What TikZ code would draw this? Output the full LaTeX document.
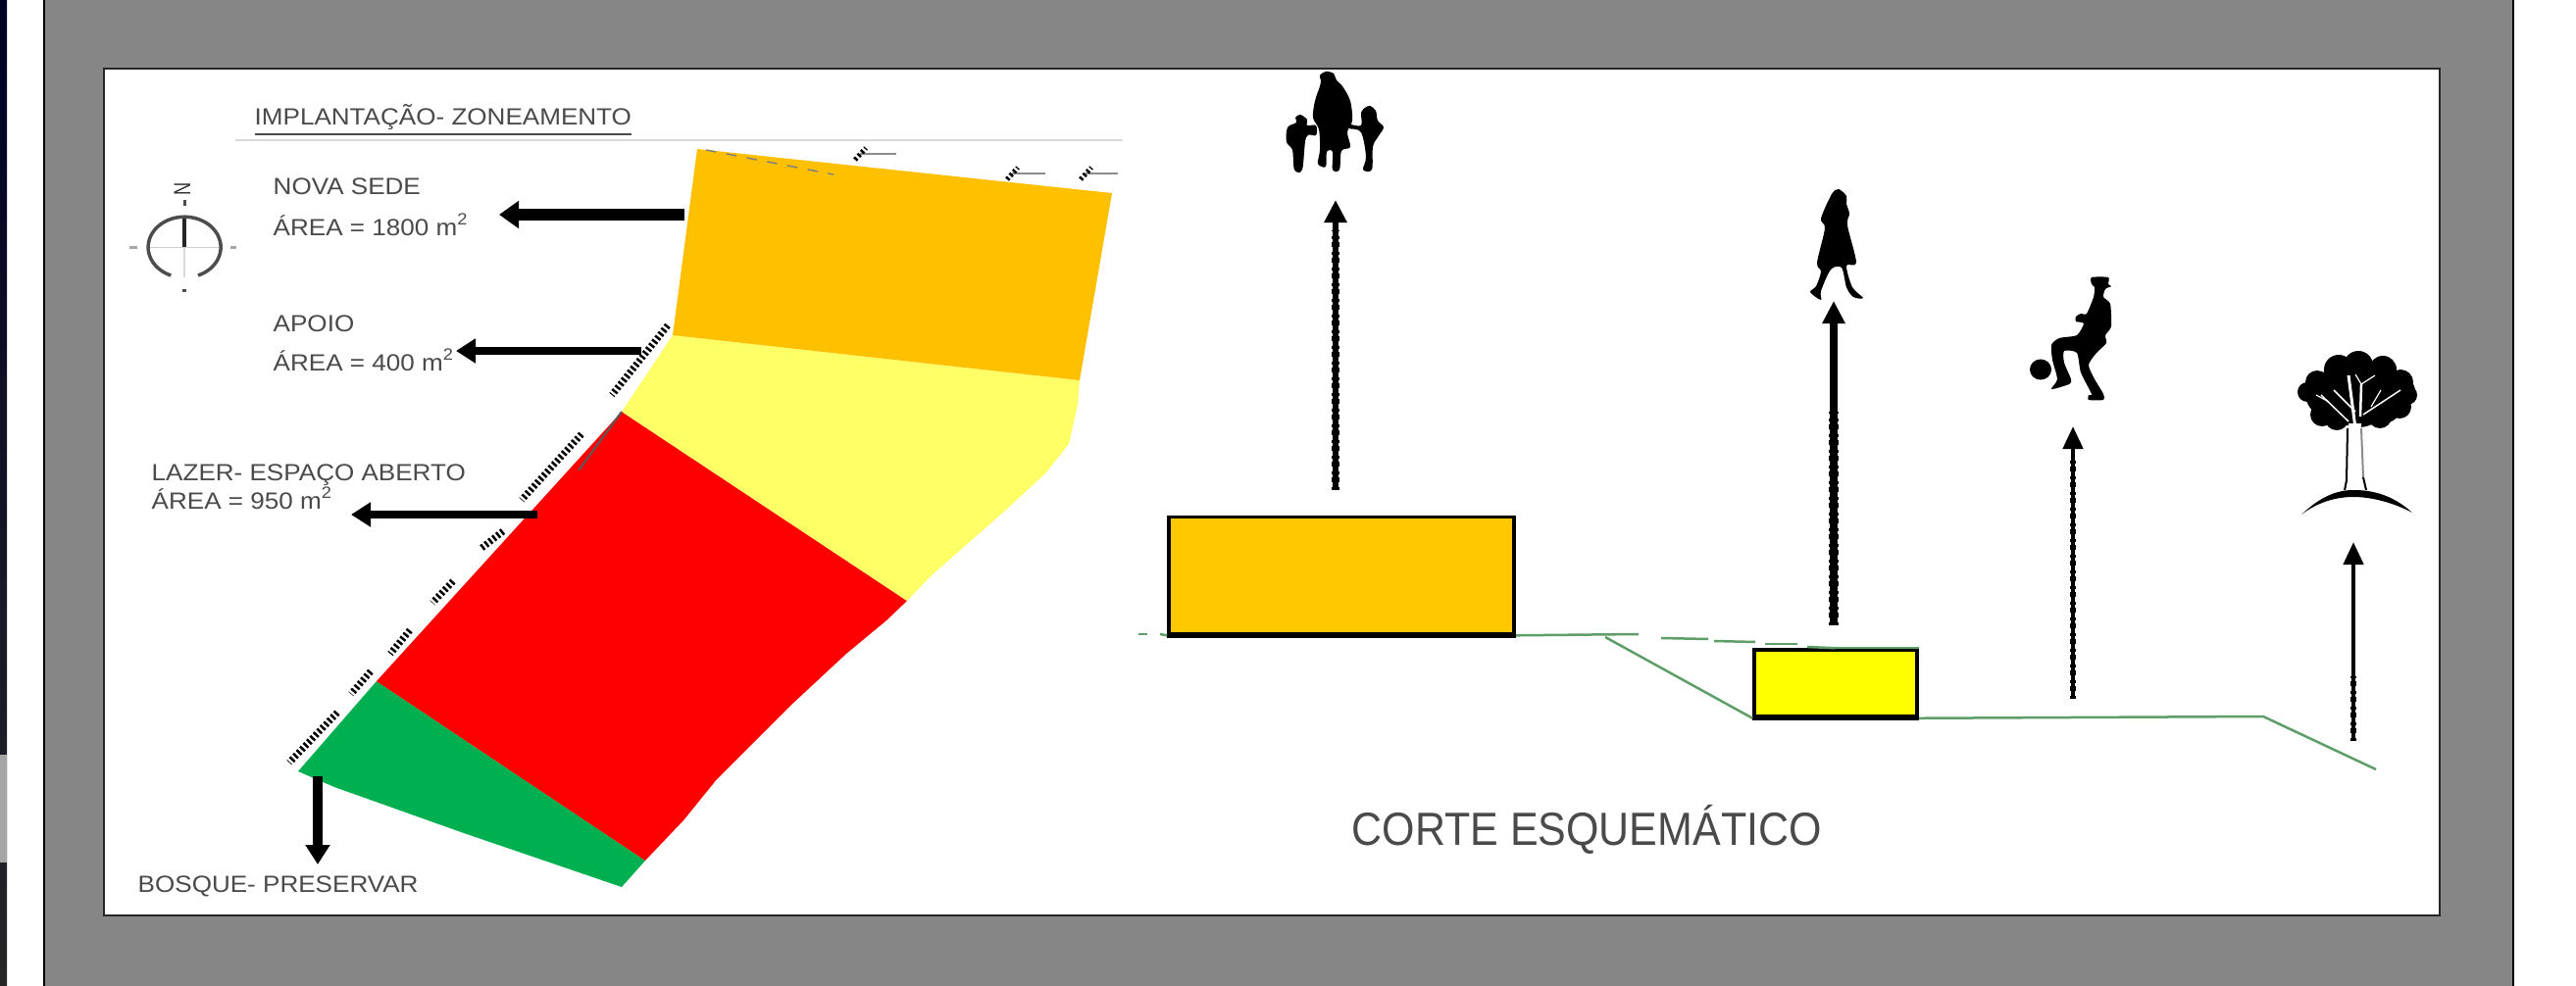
\documentclass[tikz,border=0pt]{standalone}
\usepackage{fontspec}
\usepackage{tikz}
\usetikzlibrary{arrows.meta}
\setmainfont{Liberation Sans}
\newfontfamily\planfont[FakeStretch=1.09]{Liberation Sans}
\newfontfamily\cortefont[FakeStretch=0.905]{Liberation Sans}
\definecolor{molduracinza}{HTML}{868686}
\definecolor{textocinza}{HTML}{4A4A4A}
\definecolor{zonaSede}{HTML}{FFC000}
\definecolor{zonaApoio}{HTML}{FFFF66}
\definecolor{zonaLazer}{HTML}{FF0000}
\definecolor{zonaBosque}{HTML}{00AF50}
\definecolor{caixaSede}{HTML}{FFC800}
\definecolor{caixaApoio}{HTML}{FFFF00}
\definecolor{terreno}{HTML}{5F9E68}

\begin{document}
\begin{tikzpicture}[x=0.01cm,y=-0.01cm,
    rotulo/.style={anchor=base west,text=textocinza,font=\planfont\fontsize{6.8}{8}\selectfont},
    setagrossa/.style={line width=0.12cm,-{Triangle[length=0.2cm,width=0.27cm]}},
    setamedia/.style={line width=0.08cm,-{Triangle[length=0.2cm,width=0.24cm]}},
    setacorte/.style={line width=0.06cm,-{Triangle[length=0.23cm,width=0.22cm]}},
    setafina/.style={line width=0.045cm,-{Triangle[length=0.23cm,width=0.2cm]}},
    rugas/.style={black,dash pattern=on 0.03cm off 0.05cm on 0.05cm off 0.03cm},
    cota/.style={black,line width=0.07cm,dash pattern=on 0.025cm off 0.025cm},
    cotafina/.style={black!45,line width=0.02cm},
    caixa/.style={draw=black,line width=0.035cm,minimum height=0,inner sep=0pt},
    nivel/.style={terreno,line width=0.025cm},
    silhueta/.style={fill=black,draw=none}]
    \tikzstyle{every node}+=[inner sep=0pt]
    \useasboundingbox (0,0) rectangle (2627,1006);
    \fill [white] (0,0) rectangle (2627,1006);
    \shade [top color=black!85!blue,middle color=black!70!red,bottom color=black!85] (0,0) rectangle (7,1006);
    \fill [black!35] (0,770) rectangle (7,880);
    \fill [molduracinza] (45,0) rectangle (2563,1006);
    \draw [black,line width=0.02cm] (45,0) -- (45,1006);
    \draw [black,line width=0.02cm] (2563,0) -- (2563,1006);
    \draw [black!85,fill=white,line width=0.015cm] (106,70) rectangle (2488,934);
    % titulo
    \node [rotulo] (titulo) at (259,127) {\underline{IMPLANTAÇÃO- ZONEAMENTO}};
    \draw [black!15,line width=0.02cm] (240,143) -- (1145,143);
    % norte
    \draw [black!70,line width=0.035cm] (202,281) arc [start angle=-68,end angle=248,x radius=0.37cm,y radius=0.31cm];
    \draw [black!20,line width=0.01cm] (153,252) -- (223,252);
    \draw [black!15,line width=0.02cm] (188,252) -- (188,283);
    \draw [black!85,line width=0.04cm] (188,223) -- (188,252);
    \draw [black!70,line width=0.03cm] (188,204) -- (188,210);
    \draw [black!70,line width=0.03cm] (186,296) -- (190,296);
    \draw [black!35,line width=0.03cm] (132,252) -- (140,252);
    \draw [black!35,line width=0.03cm] (235,252) -- (241,252);
    \node [rotate=90,text=black!80,font=\planfont\fontsize{6.8}{8}\selectfont] (norte) at (186,193) {\scalebox{.7}[1]{N}};
    % zonas
    \fill [zonaBosque] (384,695) -- (658,878) -- (634,905) -- (473,850) -- (341,803) -- (304,787) -- cycle;
    \fill [zonaLazer] (634,420) -- (925,613) -- (904,633) -- (863,667) -- (806,720) -- (731,795) -- (697,837) -- (658,878) -- (384,695) -- cycle;
    \fill [zonaApoio] (686,342) -- (1101,388) -- (1099,413) -- (1090,453) -- (1066,483) -- (1026,520) -- (950,587) -- (925,613) -- (634,420) -- cycle;
    \fill [zonaSede] (711,152) -- (1134,197) -- (1101,388) -- (686,342) -- cycle;
    \draw [black!65,line width=0.02cm] (634,420) -- (590,480);
    \draw [black!50,line width=0.015cm,dashed] (720,153) -- (850,178);
    % cotas
    \foreach \xa/\ya/\xb/\yb in {681/332/624/403,593/443/532/510,513/542/490/560,462/593/441/615,418/643/398/667,378/685/358/708,344/727/295/778}
      \draw [cota] (\xa,\ya) -- (\xb,\yb);
    \foreach \xa/\xb/\yc in {877/914/157,1032/1066/177,1107/1140/177}{
      \draw [cotafina] (\xa,\yc) -- (\xb,\yc);
      \draw [cota,line width=0.05cm] (\xa-5,\yc+6) -- (\xa+6,\yc-6);
    }
    % legendas
    \node [rotulo] (sede) at (278,198) {NOVA SEDE};
    \node [rotulo] (sedearea) at (278,240) {ÁREA = 1800 m\textsuperscript{2}};
    \node [rotulo] (apoio) at (278,338) {APOIO};
    \node [rotulo] (apoioarea) at (278,378) {ÁREA = 400 m\textsuperscript{2}};
    \node [rotulo] (lazer) at (154,490) {LAZER- ESPAÇO ABERTO};
    \node [rotulo] (lazerarea) at (154,519) {ÁREA = 950 m\textsuperscript{2}};
    \node [rotulo] (bosque) at (140,910) {BOSQUE- PRESERVAR};
    \coordinate (sedeA) at (698,219);
    \coordinate (sedeB) at (509,219);
    \coordinate (apoioA) at (654,358);
    \coordinate (apoioB) at (465,358);
    \coordinate (lazerA) at (548,525);
    \coordinate (lazerB) at (358,525);
    \coordinate (bosqueA) at (324,792);
    \coordinate (bosqueB) at (324,882);
    \draw [black,setagrossa] (sedeA) -- (sedeB);
    \draw [black,setamedia] (apoioA) -- (apoioB);
    \draw [black,setamedia] (lazerA) -- (lazerB);
    \draw [black,setamedia,line width=0.1cm] (bosqueA) -- (bosqueB);
    % corte
    \node [caixa,fill=caixaSede,minimum width=3.52cm,minimum height=1.19cm] (caixasede) at (1368,587) {};
    \node [caixa,fill=caixaApoio,minimum width=1.66cm,minimum height=0.68cm] (caixaapoio) at (1872,697) {};
    \draw [black,line width=0.05cm] (caixasede.south west) -- (caixasede.south east);
    \draw [black,line width=0.05cm] (caixaapoio.south west) -- (caixaapoio.south east);
    \draw [nivel] (1161,647) -- (1170,647);
    \draw [nivel] (1183,647) -- (caixasede.south west);
    \draw [nivel] (caixasede.south east) -- (1671,647);
    \draw [nivel] (1694,651) -- (1742,652);
    \draw [nivel] (1748,654) -- (1790,655);
    \draw [nivel] (1800,657) -- (1833,657);
    \draw [nivel] (1843,660) -- (caixaapoio.north);
    \draw [nivel] (caixaapoio.north) -- (caixaapoio.north east);
    \draw [nivel] (1637,650) -- (caixaapoio.south west);
    \draw [nivel] (caixaapoio.south east) -- (2308,731) -- (2423,785);
    \coordinate (familiaA) at (1362,500);
    \coordinate (familiaB) at (1362,204);
    \coordinate (mulherA) at (1870,638);
    \coordinate (mulherB) at (1870,307);
    \coordinate (jogadorA) at (2114,713);
    \coordinate (jogadorB) at (2114,435);
    \coordinate (arvoreA) at (2400,756);
    \coordinate (arvoreB) at (2400,553);
    \draw [black,setacorte] (familiaA) -- (familiaB);
    \draw [black,setacorte,line width=0.08cm] (mulherA) -- (mulherB);
    \draw [black,setafina] (jogadorA) -- (jogadorB);
    \draw [black,setafina] (arvoreA) -- (arvoreB);
    \draw [rugas,line width=0.085cm] (familiaA) -- (1362,235);
    \draw [rugas,line width=0.105cm] (mulherA) -- (1870,420);
    \draw [rugas,line width=0.065cm] (jogadorA) -- (2114,470);
    \draw [rugas,line width=0.06cm] (arvoreA) -- (2400,690);
    \node [anchor=base west,text=textocinza,font=\cortefont\fontsize{13.5}{16}\selectfont] (corte) at (1378,862) {CORTE ESQUEMÁTICO};
    % familia
    \fill [silhueta] plot [smooth cycle,tension=0.55] coordinates {(1346,77) (1352,73) (1360,75) (1363,82) (1369,88) (1377,103) (1379,123) (1374,135) (1377,150) (1368,154) (1366,173) (1359,173) (1359,155) (1353,155) (1352,170) (1344,167) (1346,153) (1345,132) (1339,120) (1341,103) (1346,88) (1347,82)};
    \fill [silhueta] plot [smooth cycle,tension=0.55] coordinates {(1326,117) (1333,122) (1333,128) (1342,128) (1342,138) (1332,140) (1328,173) (1320,173) (1318,153) (1312,145) (1313,130) (1322,125) (1321,120)};
    \fill [silhueta] plot [smooth cycle,tension=0.55] coordinates {(1397,108) (1403,113) (1405,123) (1411,130) (1405,140) (1400,150) (1399,173) (1390,173) (1393,160) (1388,135) (1376,131) (1376,127) (1388,128) (1388,115) (1392,110)};
    % mulher
    \fill [silhueta] plot [smooth cycle,tension=0.5] coordinates {(1875,193) (1883,200) (1883,208) (1886,218) (1884,230) (1893,268) (1883,271) (1889,293) (1900,304) (1890,303) (1883,293) (1878,273) (1867,275) (1857,297) (1857,306) (1846,298) (1852,292) (1857,277) (1853,268) (1861,233) (1857,223) (1868,198)};
    % jogador
    \fill [silhueta] plot [smooth cycle,tension=0.4] coordinates {(2133,283) (2150,283) (2150,290) (2153,292) (2147,295) (2145,303) (2152,310) (2153,333) (2147,342) (2148,350) (2138,360) (2130,372) (2135,385) (2145,402) (2145,408) (2130,408) (2130,403) (2133,402) (2122,380) (2118,360) (2105,358) (2105,370) (2112,387) (2110,392) (2092,397) (2098,387) (2093,367) (2092,352) (2100,345) (2118,342) (2125,330) (2117,328) (2117,323) (2122,320) (2128,320) (2135,303) (2136,293) (2133,290)};
    \fill [silhueta] (2081,377) ellipse [x radius=0.11cm,y radius=0.105cm];
    % arvore
    \foreach \xc/\yc/\rc in {2353/400/10,2363/390/12,2385/377/15,2405/373/15,2430/377/14,2448/390/13,2455/403/10,2368/423/12,2383/427/12,2427/425/12,2447/415/12,2405/403/33,2378/400/22,2432/400/22,2380/415/20,2430/412/20,2370/405/18,2445/400/18}
      \fill [silhueta] (\xc,\yc) ellipse [x radius=\rc*0.01cm,y radius=\rc*0.01cm];
    \foreach \xa/\ya/\xb/\yb/\lw in {2402/437/2395/383/0.03,2402/420/2380/398/0.015,2407/425/2408/392/0.025,2408/392/2422/383/0.012,2408/392/2402/382/0.012,2410/423/2448/398/0.015,2418/415/2428/398/0.012,2395/430/2367/403/0.015,2375/410/2362/403/0.012}
      \draw [white,line width=\lw cm] (\xa,\ya) -- (\xb,\yb);
    \fill [white] (2395,432) -- (2408,432) -- (2410,487) -- (2413,500) -- (2391,500) -- (2393,490) -- cycle;
    \draw [black,line width=0.02cm] (2394,437) -- (2393,490) -- (2391,500);
    \draw [black!45,line width=0.02cm] (2408,437) -- (2410,487);
    \draw [black,line width=0.02cm] (2410,487) -- (2413,500);
    \fill [silhueta] (2347,525) .. controls (2368,505) and (2385,500) .. (2400,500) .. controls (2420,500) and (2440,505) .. (2460,523) .. controls (2437,511) and (2415,507) .. (2400,507) .. controls (2385,507) and (2365,511) .. (2347,525);
\end{tikzpicture}
\end{document}
